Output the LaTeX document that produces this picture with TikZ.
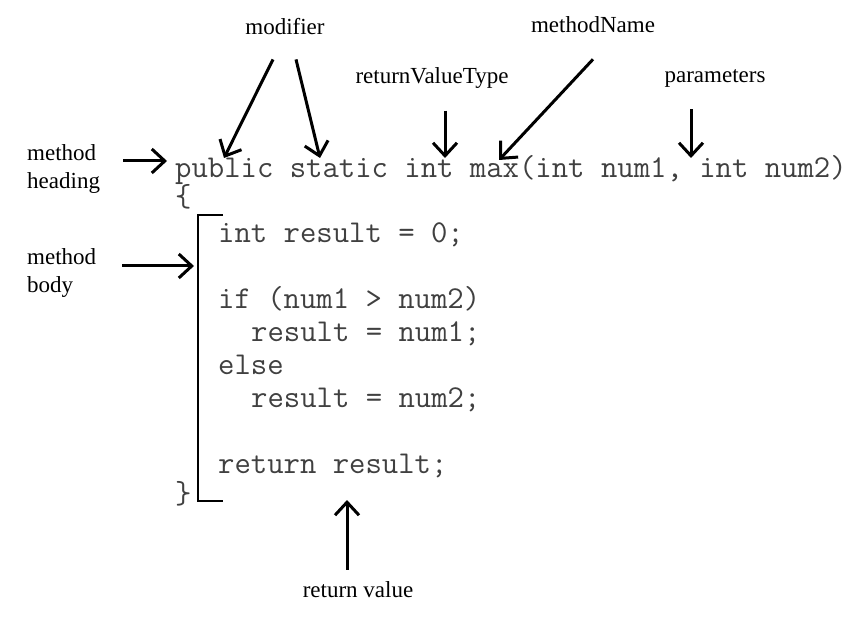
\documentclass[tikz,border=0pt]{standalone}
\usepackage{fontspec}
\setmainfont{Liberation Serif}
\usetikzlibrary{arrows.meta}

\begin{document}
\begin{tikzpicture}[x=1pt,y=-1pt,
    lbl/.style={inner sep=0pt,font=\fontsize{23}{28}\selectfont},
    code/.style={inner sep=0pt,anchor=base west,text=black!75,font=\ttfamily\fontsize{31.8}{33}\selectfont},
    ptr/.style={line width=3pt,-{Straight Barb[length=13pt,width=24pt]}}]
    \useasboundingbox (0,0) rectangle (857,617);
    % labels
    \node[lbl] (modifier) at (285,27) {modifier};
    \node[lbl] (methodName) at (593,25) {methodName};
    \node[lbl] (returnType) at (432,78) {returnValueType};
    \node[lbl] (parameters) at (715,78) {parameters};
    \node[lbl,anchor=west,align=left] (heading) at (27,169) {method\\heading};
    \node[lbl,anchor=west,align=left] (body) at (27,273) {method\\body};
    \node[lbl] (retValue) at (358,590) {return value};
    % code
    \node[code] (sig) at (175,178) {public static int max(int num1, int num2)};
    \node[code] (open) at (175,207) {\{};
    \node[code] (l1) at (218,243) {int result = 0;};
    \node[code] (l2) at (218,309) {if (num1 > num2)};
    \node[code] (l3) at (251,342) {result = num1;};
    \node[code] (l4) at (218,375) {else};
    \node[code] (l5) at (251,408) {result = num2;};
    \node[code] (l6) at (218,474) {return result;};
    \node[code] (close) at (175,503) {\}};
    \draw[line width=2.5pt] (223,215) -- (198,215) -- (198,501) -- (223,501);
    % arrow tips
    \coordinate (pubTip) at (224,158);
    \coordinate (staTip) at (320,158);
    \coordinate (intTip) at (445,158);
    \coordinate (maxTip) at (499,160);
    \coordinate (parTip) at (691,158);
    \coordinate (headTip) at (167,161);
    \coordinate (bodyTip) at (194,266);
    \coordinate (retTip) at (347,500);
    \draw[ptr] ([xshift=-12pt,yshift=-24pt]modifier.south) -- (pubTip);
    \draw[ptr] ([xshift=11pt,yshift=-24pt]modifier.south) -- (staTip);
    \draw[ptr] ([xshift=13pt,yshift=-22pt]returnType.south) -- (intTip);
    \draw[ptr] ([yshift=-26pt]methodName.south) -- (maxTip);
    \draw[ptr] ([xshift=-24pt,yshift=-22pt]parameters.south) -- (parTip);
    \draw[ptr] ([xshift=23pt,yshift=8pt]heading.east) -- (headTip);
    \draw[ptr] ([xshift=26pt,yshift=7pt]body.east) -- (bodyTip);
    \draw[ptr] ([xshift=-11pt,yshift=12pt]retValue.north) -- (retTip);
\end{tikzpicture}
\end{document}
